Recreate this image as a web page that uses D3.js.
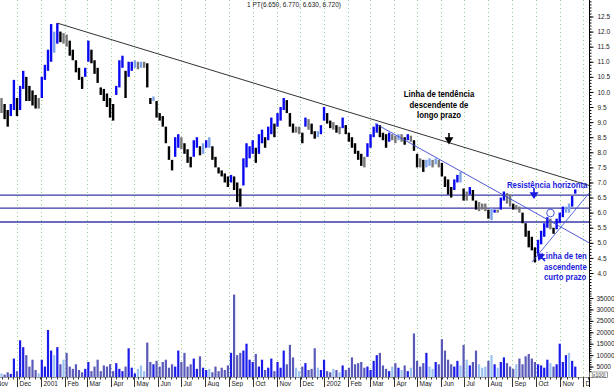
<!DOCTYPE html>
<html>
<head>
<meta charset="utf-8">
<script src="https://cdn.jsdelivr.net/npm/d3@7"></script>
<style>
  body { margin: 0; background: #fff; }
  svg { display: block; font-family: "Liberation Sans", Arial, sans-serif; }
</style>
</head>
<body>
<div id="chart"></div>
<script>
'use strict'

//#region Data
// one bar every 4 calendar days, starting on this date
const firstBarDate = new Date(2000, 10, 11);
const barStepDays = 4;

const highs = [
  9.8, 9.6, 9.4, 9.6, 10.4, 9.8, 10.2, 10.7, 10.5, 10.2,
  10.05, 9.9, 9.8, 10.5, 10.9, 11.4, 12.25, 12.0, 12.28, 12.0,
  11.95, 11.9, 11.7, 11.4, 11.05, 10.8, 10.5, 10.8, 11.7, 11.4,
  11.05, 10.8, 10.15, 10.1, 9.95, 9.8, 9.6, 10.2, 11.05, 11.2,
  10.7, 11.0, 11.0, 11.05, 11.0, 11.0, 11.0, 10.95, 9.8, 9.85,
  9.7, 9.3, 9.2, 8.85, 8.2, 7.75, 8.5, 8.6, 8.5, 8.3,
  8.1, 7.85, 8.4, 8.5, 8.2, 8.3, 8.4, 8.5, 8.2, 7.85,
  7.5, 7.4, 7.3, 7.2, 7.25, 7.2, 7.0, 6.8, 7.8, 8.3,
  8.2, 8.4, 8.15, 8.6, 8.75, 8.5, 8.85, 9.15, 8.95, 9.3,
  9.5, 9.8, 9.73, 9.3, 8.95, 8.85, 8.85, 8.65, 9.15, 9.1,
  8.95, 8.7, 8.7, 8.9, 9.5, 9.3, 9.05, 9.0, 8.9, 8.85,
  9.15, 8.9, 8.65, 8.5, 8.3, 8.05, 7.95, 7.85, 8.3, 8.6,
  8.85, 8.95, 8.9, 8.65, 8.6, 8.65, 8.6, 8.55, 8.6, 8.6,
  8.5, 8.6, 8.55, 8.4, 7.95, 7.8, 7.75, 7.75, 7.8, 7.75,
  7.8, 7.75, 7.65, 7.2, 7.1, 6.85, 7.1, 7.25, 7.35, 6.8,
  6.7, 6.85, 6.75, 6.4, 6.35, 6.3, 6.3, 6.1, 6.15, 6.1,
  6.1, 6.5, 6.7, 6.65, 6.6, 6.3, 6.25, 6.2, 6.0, 5.65,
  5.4, 5.2, 4.85, 5.1, 5.4, 5.65, 5.85, 5.8, 5.5, 5.8,
  6.0, 6.2, 6.2, 6.3, 6.55, 6.77
];

const lows = [
  9.3, 9.1, 8.85, 9.2, 9.4, 9.2, 9.4, 10.1, 9.7, 9.7,
  9.55, 9.45, 9.45, 9.8, 10.4, 10.7, 11.0, 11.3, 11.6, 11.65,
  11.6, 11.5, 11.2, 11.05, 10.65, 10.4, 10.1, 10.5, 11.0, 10.95,
  10.6, 10.3, 9.9, 9.7, 9.5, 9.15, 9.05, 9.9, 10.15, 10.8,
  9.8, 10.5, 10.7, 10.8, 10.75, 10.8, 10.8, 10.15, 9.6, 9.7,
  9.15, 9.05, 8.85, 8.3, 7.75, 7.4, 7.85, 8.15, 8.1, 7.95,
  7.65, 7.5, 7.85, 8.15, 7.9, 7.95, 8.15, 8.15, 7.75, 7.5,
  7.3, 7.2, 7.0, 6.85, 7.0, 6.75, 6.35, 6.2, 6.9, 7.5,
  7.8, 7.95, 7.65, 7.95, 8.3, 8.15, 8.4, 8.6, 8.5, 8.85,
  9.05, 9.4, 9.3, 8.85, 8.65, 8.65, 8.6, 8.3, 8.85, 8.75,
  8.6, 8.45, 8.5, 8.6, 9.05, 8.95, 8.8, 8.75, 8.65, 8.6,
  8.8, 8.6, 8.35, 8.15, 7.95, 7.75, 7.55, 7.5, 7.85, 8.15,
  8.5, 8.65, 8.5, 8.4, 8.15, 8.35, 8.4, 8.3, 8.4, 8.35,
  8.25, 8.4, 8.35, 8.05, 7.5, 7.5, 7.35, 7.5, 7.55, 7.5,
  7.6, 7.5, 7.2, 6.85, 6.6, 6.5, 6.75, 7.0, 7.0, 6.4,
  6.4, 6.6, 6.4, 6.1, 6.05, 6.1, 6.05, 5.8, 5.75, 6.0,
  6.0, 6.1, 6.4, 6.3, 6.2, 6.1, 6.1, 6.0, 5.65, 5.2,
  4.85, 4.75, 4.35, 4.65, 4.95, 5.2, 5.5, 5.45, 5.3, 5.45,
  5.65, 5.85, 6.0, 6.0, 6.2, 6.63
];

const volumes = [
  2000, 1500, 2500, 1800, 8500, 3000, 16500, 13500, 10000, 5000,
  8000, 3500, 2000, 8000, 5000, 21000, 12000, 10000, 13500, 6000,
  8000, 11000, 5000, 4000, 6000, 3500, 2500, 4000, 7000, 3000,
  5000, 8000, 3000, 5500, 5000, 6000, 3000, 6500, 4000, 3000,
  5000, 13000, 4500, 2000, 4000, 5500, 3000, 15500, 7000, 6000,
  7500, 5000, 7000, 8000, 4500, 6000, 5000, 12000, 7000, 11000,
  5000, 6000, 8500, 4000, 9500, 4500, 3500, 4000, 2500, 5000,
  3000, 4500, 3500, 5500, 11000, 36500, 10000, 11000, 12000, 15000,
  8000, 7000, 10500, 5000, 8000, 3500, 4500, 8500, 3000, 7000,
  4500, 12000, 6000, 14500, 9000, 4500, 3000, 5000, 6500, 3500,
  4000, 13000, 4500, 3500, 8000, 3000, 2500, 4000, 3500, 2500,
  5500, 3500, 4500, 9000, 6000, 6500, 7000, 4500, 5000, 3500,
  7500, 10000, 11000, 5500, 4000, 3000, 5000, 6500, 4500, 3500,
  5500, 3000, 4500, 19500, 7500, 5000, 6500, 11000, 5000, 4000,
  7000, 6000, 17000, 12000, 8000, 6000, 5000, 7500, 5500, 14500,
  8000, 5500, 7000, 12000, 6000, 4500, 5000, 7500, 10000, 6000,
  4500, 7000, 9000, 6500, 5000, 4000, 6000, 8500, 6000, 9500,
  10500, 8500, 7000, 6000, 5500, 4500, 8000, 6500, 5000, 6000,
  15000, 7000, 10000, 11000, 7500, 5000
];

// last bar quote shown in the header
const lastQuote = { name: '1 PT', open: 6.650, high: 6.770, low: 6.630, close: 6.720 };

// drawn lines: [date, price] pairs
const longTrend = [[new Date(2001, 0, 22), 12.28], [new Date(2002, 11, 9), 6.9]];
const mediumTrend = [[new Date(2002, 2, 8), 8.95], [new Date(2002, 11, 9), 5.0]];
const shortTrend = [[new Date(2002, 8, 26), 4.36], [new Date(2002, 11, 9), 6.65]];
const horizontalLevels = [6.58, 6.15, 5.69];

// axis tick labels
const priceTicks = [4.0, 4.5, 5.0, 5.5, 6.0, 6.5, 7.0, 7.5, 8.0, 8.5, 9.0, 9.5, 10.0, 10.5, 11.0, 11.5, 12.0, 12.5];
const volumeTicks = [5000, 10000, 15000, 20000, 25000, 30000, 35000];
const monthNames = ['Jan', 'Feb', 'Mar', 'Apr', 'May', 'Jun', 'Jul', 'Aug', 'Sep', 'Oct', 'Nov', 'Dec'];
//#endregion

//#region Settings
const svgWidth = 614, svgHeight = 387;
const plotRight = 589;
const volBase = 377;
const noteBlue = '#1a1ae0';
//#endregion

const bars = highs.map((h, i) => {
    const mid = (h + lows[i]) / 2;
    const prev = i ? (highs[i - 1] + lows[i - 1]) / 2 : mid;
    return {
        date: d3.timeDay.offset(firstBarDate, i * barStepDays),
        high: h,
        low: lows[i],
        volume: volumes[i],
        change: mid - prev
    };
});

const svg = d3.select('#chart').append('svg')
    .attr('width', svgWidth)
    .attr('height', svgHeight);

svg.append('rect').attr('width', svgWidth).attr('height', svgHeight).attr('fill', '#fff');

// scales
const x = d3.scaleTime()
    .domain([new Date(2000, 11, 1), new Date(2002, 11, 1)])
    .range([17, 583]);
const yPrice = d3.scaleLinear().domain([4, 12.5]).range([273, 16.5]);
const yVol = d3.scaleLinear().domain([0, 35000]).range([378, 298]);

svg.append('clipPath').attr('id', 'plotClip')
    .append('rect').attr('x', 0).attr('y', 0).attr('width', plotRight).attr('height', volBase);

const plot = svg.append('g').attr('clip-path', 'url(#plotClip)');

//#region Month grid lines
const months = d3.timeMonth.range(new Date(2000, 10, 1), new Date(2002, 11, 2));
plot.append('g').selectAll('line')
    .data(months)
    .join('line')
        .attr('x1', d => Math.round(x(d)) + 0.5)
        .attr('x2', d => Math.round(x(d)) + 0.5)
        .attr('y1', 0)
        .attr('y2', volBase)
        .attr('stroke', '#93c993')
        .attr('stroke-dasharray', '1,3');
//#endregion

//#region Horizontal levels
plot.append('g').selectAll('line')
    .data(horizontalLevels)
    .join('line')
        .attr('x1', 0)
        .attr('x2', plotRight)
        .attr('y1', d => yPrice(d))
        .attr('y2', d => yPrice(d))
        .attr('stroke', '#3a3aa8')
        .attr('stroke-width', 1.4);
//#endregion

//#region Volume bars
const volColor = d => Math.abs(d.change) < 0.06 ? '#9cc2ef' : (d.change > 0 ? '#1c1ce8' : '#5a5ab8');
plot.append('g').selectAll('rect')
    .data(bars)
    .join('rect')
        .attr('x', d => x(d.date) - 1.1)
        .attr('y', d => yVol(d.volume))
        .attr('width', 2.2)
        .attr('height', d => yVol(0) - yVol(d.volume))
        .attr('fill', volColor);
//#endregion

//#region Price bars
const priceColor = d => {
    if (d.change > 0) return Math.abs(d.change) < 0.08 ? '#7fa3ea' : '#0a0af0';
    return Math.abs(d.change) < 0.08 ? '#777' : '#000';
};
plot.append('g').selectAll('line')
    .data(bars)
    .join('line')
        .attr('x1', d => x(d.date))
        .attr('x2', d => x(d.date))
        .attr('y1', d => yPrice(d.high))
        .attr('y2', d => yPrice(d.low))
        .attr('stroke', priceColor)
        .attr('stroke-width', 2.4);
//#endregion

//#region Trend lines
const trendLine = d3.line().x(d => x(d[0])).y(d => yPrice(d[1]));
plot.append('path').attr('d', trendLine(longTrend))
    .attr('fill', 'none').attr('stroke', '#333').attr('stroke-width', 1);
plot.append('path').attr('d', trendLine(mediumTrend))
    .attr('fill', 'none').attr('stroke', '#3c46d0').attr('stroke-width', 0.9);
plot.append('path').attr('d', trendLine(shortTrend))
    .attr('fill', 'none').attr('stroke', '#4a5ad8').attr('stroke-width', 0.9);
//#endregion

//#region Annotations
// the right-hand notes run into the price axis and are cut there, as in the picture
const note = (g, px, py, lines, color, anchor) => {
    const t = g.append('g').attr('transform', `translate(${px},${py}) scale(0.82,1)`);
    lines.forEach((s, i) => {
        t.append('text')
            .attr('x', s.dx / 0.82)
            .attr('y', i * 10.6)
            .attr('text-anchor', anchor)
            .attr('font-size', '9.5px')
            .attr('font-weight', 'bold')
            .attr('fill', color)
            .text(s.text);
    });
};
note(plot, 439, 97, [
    { text: 'Linha de tendência', dx: 0 },
    { text: 'descendente de', dx: 0 },
    { text: 'longo prazo', dx: 0 }
], '#000', 'middle');

note(plot, 507, 188, [{ text: 'Resistência horizonta', dx: 0 }], noteBlue, 'start');

note(plot, 541, 259, [
    { text: 'Linha de ten', dx: 0 },
    { text: 'ascendente', dx: 3 },
    { text: 'curto prazo', dx: 3 }
], noteBlue, 'start');

// black arrow under the long-term label
plot.append('path')
    .attr('d', 'M449,133 V139 M446,138 L449,143 L452,138 Z')
    .attr('stroke', '#000').attr('stroke-width', 1.6).attr('fill', '#000');
// blue arrow under the resistance label
plot.append('path')
    .attr('d', 'M534,188 V194 M531,193 L534,197.5 L537,193 Z')
    .attr('stroke', noteBlue).attr('stroke-width', 1.6).attr('fill', noteBlue);
// blue arrow pointing at the low
plot.append('path')
    .attr('d', 'M545,261 L540,256 M538,254 L543.5,255 L539,259.5 Z')
    .attr('stroke', noteBlue).attr('stroke-width', 1.6).attr('fill', noteBlue);
// small circle on the breakout
plot.append('circle')
    .attr('cx', 550.5).attr('cy', 213).attr('r', 3.8)
    .attr('fill', 'none').attr('stroke', '#4a5ad8').attr('stroke-width', 1);
//#endregion

//#region Header
const fmt = d3.format('.3f');
svg.append('text')
    .attr('x', 294)
    .attr('y', 7)
    .attr('text-anchor', 'middle')
    .attr('font-size', '6.5px')
    .attr('fill', '#222')
    .text(`${lastQuote.name}(${fmt(lastQuote.open)}, ${fmt(lastQuote.high)}, ${fmt(lastQuote.low)}, ${fmt(lastQuote.close)})`);
//#endregion

//#region Right axis
const axisG = svg.append('g').attr('transform', `translate(${plotRight + 0.5},0)`);
axisG.append('line').attr('y1', 0).attr('y2', svgHeight).attr('stroke', '#000');

axisG.append('g')
    .call(d3.axisRight(yPrice).tickValues(d3.range(35, 131).map(v => v / 10)).tickSize(2).tickFormat(''))
    .call(g => g.select('.domain').remove());
axisG.append('g')
    .call(d3.axisRight(yPrice).tickValues(priceTicks).tickSize(4).tickPadding(4).tickFormat(d3.format('.1f')))
    .call(g => g.select('.domain').remove())
    .call(g => g.selectAll('text').attr('font-size', '6.5px').attr('font-family', null).attr('fill', '#222'));

axisG.append('g')
    .call(d3.axisRight(yVol).tickValues(d3.range(1000, 38001, 1000)).tickSize(2).tickFormat(''))
    .call(g => g.select('.domain').remove());
axisG.append('g')
    .call(d3.axisRight(yVol).tickValues(volumeTicks).tickSize(4).tickPadding(3).tickFormat(d3.format('d')))
    .call(g => g.select('.domain').remove())
    .call(g => g.selectAll('text').attr('font-size', '6.5px').attr('font-family', null).attr('fill', '#222'));

// volume unit box
axisG.append('rect').attr('x', 0).attr('y', 372).attr('width', 18).attr('height', 5.5)
    .attr('fill', '#fff').attr('stroke', '#555').attr('stroke-width', 0.6);
axisG.append('text').attr('x', 9).attr('y', 376.6).attr('text-anchor', 'middle')
    .attr('font-size', '5px').attr('fill', '#333').text('[x100]');
//#endregion

//#region Bottom axis
const bottom = svg.append('g').attr('clip-path', 'url(#bottomClip)');
svg.append('clipPath').attr('id', 'bottomClip')
    .append('rect').attr('x', 0).attr('y', volBase - 1).attr('width', plotRight).attr('height', 12);

bottom.append('g').selectAll('line')
    .data(d3.timeWeek.range(new Date(2000, 10, 1), new Date(2002, 11, 20)))
    .join('line')
        .attr('x1', d => Math.round(x(d)) + 0.5)
        .attr('x2', d => Math.round(x(d)) + 0.5)
        .attr('y1', volBase)
        .attr('y2', volBase + 2.5)
        .attr('stroke', '#333');

bottom.append('g').selectAll('line')
    .data(months)
    .join('line')
        .attr('x1', d => Math.round(x(d)) + 0.5)
        .attr('x2', d => Math.round(x(d)) + 0.5)
        .attr('y1', volBase)
        .attr('y2', svgHeight)
        .attr('stroke', '#333');

bottom.append('g').selectAll('text')
    .data(months)
    .join('text')
        .attr('x', d => Math.round(x(d)) + 2.5)
        .attr('y', 385.5)
        .attr('font-size', '6.5px')
        .attr('fill', '#222')
        .text(d => d.getMonth() === 0 ? d.getFullYear() : monthNames[d.getMonth()]);

bottom.append('line').attr('x1', 0).attr('x2', plotRight).attr('y1', volBase + 0.5).attr('y2', volBase + 0.5)
    .attr('stroke', '#555').attr('stroke-width', 0.6);
//#endregion
</script>
</body>
</html>
